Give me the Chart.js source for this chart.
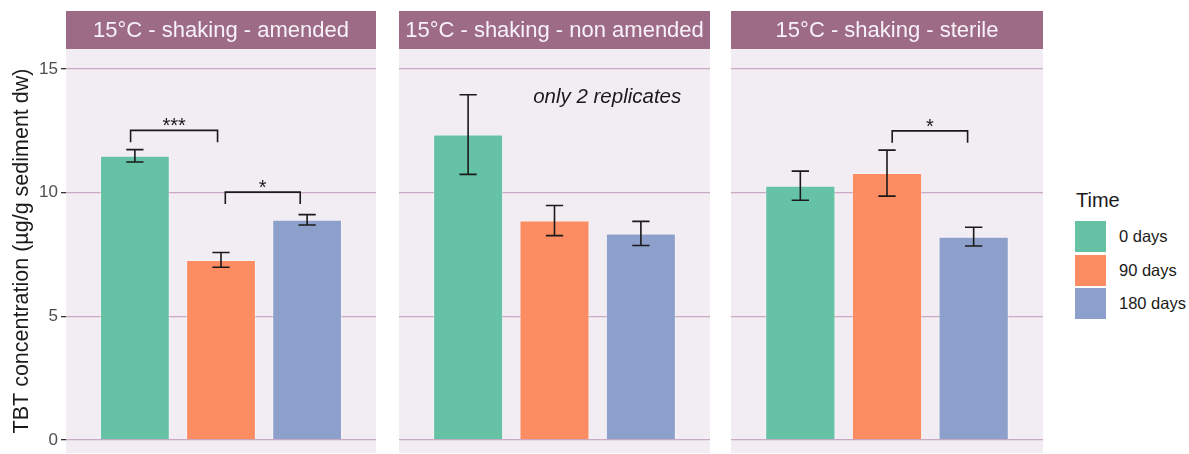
<!DOCTYPE html>
<html>
<head>
<meta charset="utf-8">
<script src="https://cdn.jsdelivr.net/npm/chart.js@4"></script>
<style>
  html, body { margin: 0; padding: 0; background: #ffffff; }
  body { width: 1189px; height: 454px; position: relative; overflow: hidden; font-family: "Liberation Sans", Arial, sans-serif; }
  canvas { position: absolute; }
  #legend { position: absolute; left: 0; top: 0; color: #1a1a1a; }
  #legend div { position: absolute; white-space: nowrap; }
  #legend .title { font-size: 20px; left: 1076px; top: 189px; }
  #legend .key { width: 31px; height: 31px; left: 1075px; }
  #legend .lab { font-size: 16.5px; left: 1119px; }
</style>
</head>
<body>
<canvas id="c0"></canvas>
<canvas id="c1"></canvas>
<canvas id="c2"></canvas>
<div id="legend"></div>
<script>
// Treatment levels and panels
const categories = ['0 days', '90 days', '180 days'];
const facets = ['15°C - shaking - amended', '15°C - shaking - non amended', '15°C - shaking - sterile'];
const colors = ['#66C2A5', '#FC8D62', '#8DA0CB'];

// Mean TBT concentration (µg/g sediment dw) and standard error per panel
const amendedMean = [11.49, 7.28, 8.90];
const amendedErr = [0.25, 0.30, 0.21];
const nonAmendedMean = [12.35, 8.87, 8.35];
const nonAmendedErr = [1.61, 0.61, 0.49];
const sterileMean = [10.28, 10.79, 8.22];
const sterileErr = [0.59, 0.93, 0.38];

const yTicks = [0, 5, 10, 15];

// Significance brackets: x positions on the dodge axis (bars at 1, 2, 3)
const amendedBrackets = [
  { x0: 0.95, x1: 1.96, y: 12.52, leg: 12.04, label: '***' },
  { x0: 2.05, x1: 2.92, y: 10.02, leg: 9.54, label: '*' }
];
const nonAmendedBrackets = [];
const sterileBrackets = [
  { x0: 2.06, x1: 2.93, y: 12.50, leg: 12.02, label: '*' }
];

const nonAmendedNote = { x: 2.61, y: 13.86, text: 'only 2 replicates' };

const panels = [
  { title: facets[0], mean: amendedMean, err: amendedErr, brackets: amendedBrackets, note: null },
  { title: facets[1], mean: nonAmendedMean, err: nonAmendedErr, brackets: nonAmendedBrackets, note: nonAmendedNote },
  { title: facets[2], mean: sterileMean, err: sterileErr, brackets: sterileBrackets, note: null }
];

const STRIP_BG = '#9E6B87';
const PANEL_BG = '#F2EDF2';
const GRID = '#C9A9C3';
const INK = '#1a1a1a';
const FONT = '"Liberation Sans", Arial, sans-serif';

// Canvas placement for each panel (first one also carries the y axis)
const layout = [
  { left: 0, width: 376, axis: true },
  { left: 399, width: 311, axis: false },
  { left: 731, width: 312, axis: false }
];
const CANVAS_TOP = 11, CANVAS_H = 442, STRIP_H = 38, AXIS_W = 66;

const panelDecor = {
  id: 'panelDecor',
  beforeDraw(chart) {
    const { ctx, chartArea: a } = chart;
    const p = chart.options.plugins.panelDecor;
    ctx.save();
    ctx.fillStyle = PANEL_BG;
    ctx.fillRect(a.left, a.top, a.right - a.left, a.bottom - a.top);
    ctx.fillStyle = STRIP_BG;
    ctx.fillRect(a.left, a.top - STRIP_H, a.right - a.left, STRIP_H);
    ctx.fillStyle = '#F7F2F7';
    ctx.font = '22px ' + FONT;
    ctx.textAlign = 'center';
    ctx.textBaseline = 'middle';
    ctx.fillText(p.title, (a.left + a.right) / 2, a.top - STRIP_H / 2 + 1);
    ctx.restore();
  },
  afterDatasetsDraw(chart) {
    const { ctx } = chart;
    const p = chart.options.plugins.panelDecor;
    const xs = chart.scales.x, ys = chart.scales.y;
    ctx.save();
    ctx.strokeStyle = INK;
    ctx.lineWidth = 1.6;
    // error bars
    const half = 0.1;
    p.mean.forEach((m, i) => {
      const x = i + 1;
      const lo = ys.getPixelForValue(m - p.err[i]);
      const hi = ys.getPixelForValue(m + p.err[i]);
      const xl = xs.getPixelForValue(x - half), xr = xs.getPixelForValue(x + half);
      const xc = xs.getPixelForValue(x);
      ctx.beginPath();
      ctx.moveTo(xl, hi); ctx.lineTo(xr, hi);
      ctx.moveTo(xc, hi); ctx.lineTo(xc, lo);
      ctx.moveTo(xl, lo); ctx.lineTo(xr, lo);
      ctx.stroke();
    });
    // significance brackets
    ctx.fillStyle = INK;
    ctx.font = '20px ' + FONT;
    ctx.textAlign = 'center';
    ctx.textBaseline = 'alphabetic';
    p.brackets.forEach(b => {
      const x0 = xs.getPixelForValue(b.x0), x1 = xs.getPixelForValue(b.x1);
      const y = ys.getPixelForValue(b.y), yl = ys.getPixelForValue(b.leg);
      ctx.beginPath();
      ctx.moveTo(x0, yl); ctx.lineTo(x0, y); ctx.lineTo(x1, y); ctx.lineTo(x1, yl);
      ctx.stroke();
      ctx.fillText(b.label, (x0 + x1) / 2, y + 2);
    });
    if (p.note) {
      ctx.font = 'italic 20.5px ' + FONT;
      ctx.textBaseline = 'middle';
      ctx.fillText(p.note.text, xs.getPixelForValue(p.note.x), ys.getPixelForValue(p.note.y));
    }
    ctx.restore();
  }
};

panels.forEach((p, k) => {
  const L = layout[k];
  const cv = document.getElementById('c' + k);
  cv.style.left = L.left + 'px';
  cv.style.top = CANVAS_TOP + 'px';
  cv.width = L.width; cv.height = CANVAS_H;
  cv.style.width = L.width + 'px'; cv.style.height = CANVAS_H + 'px';

  new Chart(cv, {
    type: 'bar',
    data: {
      datasets: [{
        data: p.mean.map((v, i) => ({ x: i + 1, y: v })),
        backgroundColor: colors,
        borderColor: 'rgba(255,255,255,0.35)',
        borderWidth: 1,
        borderSkipped: 'bottom',
        barPercentage: 0.81,
        categoryPercentage: 1
      }]
    },
    options: {
      responsive: false,
      animation: false,
      events: [],
      layout: { padding: { top: STRIP_H, left: 0, right: 0, bottom: 0 } },
      plugins: {
        legend: { display: false },
        tooltip: { enabled: false },
        panelDecor: { title: p.title, mean: p.mean, err: p.err, brackets: p.brackets, note: p.note }
      },
      scales: {
        x: {
          type: 'linear',
          min: 0.2, max: 3.8,
          offset: false,
          display: false,
          afterBuildTicks(s) { s.ticks = categories.map((c, i) => ({ value: i + 1 })); }
        },
        y: {
          min: -0.53, max: 15.81,
          afterBuildTicks(s) { s.ticks = yTicks.map(v => ({ value: v })); },
          afterFit(s) {
            s.width = L.axis ? AXIS_W : 0;
            s.paddingTop = 0; s.paddingBottom = 0;
          },
          border: { display: false },
          grid: {
            color: GRID,
            lineWidth: 1.3,
            drawTicks: L.axis,
            tickLength: 5,
            tickColor: '#333333',
            tickWidth: 1.3
          },
          ticks: {
            display: L.axis,
            color: '#4D4D4D',
            font: { family: FONT, size: 17 },
            padding: 3
          },
          title: {
            display: L.axis,
            text: 'TBT concentration (µg/g sediment dw)',
            color: INK,
            font: { family: FONT, size: 21.5 },
            padding: { top: 9, bottom: 0 }
          }
        }
      }
    },
    plugins: [panelDecor]
  });
});

// Fill legend
const legend = document.getElementById('legend');
const t = document.createElement('div');
t.className = 'title'; t.textContent = 'Time';
legend.appendChild(t);
categories.forEach((c, i) => {
  const top = 221 + i * 33.5;
  const key = document.createElement('div'); key.className = 'key';
  key.style.background = colors[i]; key.style.top = top + 'px';
  const lab = document.createElement('div'); lab.className = 'lab'; lab.textContent = c;
  lab.style.top = (top + 6) + 'px';
  legend.appendChild(key); legend.appendChild(lab);
});
</script>
</body>
</html>
